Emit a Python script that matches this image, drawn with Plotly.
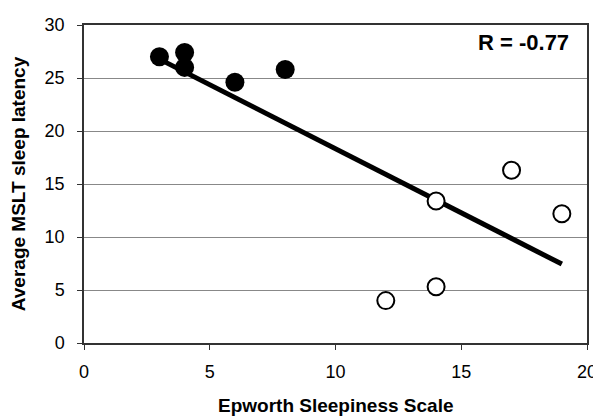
import numpy as np
import plotly.graph_objects as go

# Data
ess_low = [3, 4, 4, 6, 8]
mslt_low = [27.0, 27.4, 26.0, 24.6, 25.8]
ess_high = [12, 14, 14, 17, 19]
mslt_high = [4.0, 5.3, 13.4, 16.3, 12.2]
x_ticks = [0, 5, 10, 15, 20]
y_ticks = [0, 5, 10, 15, 20, 25, 30]
x_title = "Epworth Sleepiness Scale"
y_title = "Average MSLT sleep latency"

all_x = np.array(ess_low + ess_high, dtype=float)
all_y = np.array(mslt_low + mslt_high, dtype=float)
slope, intercept = np.polyfit(all_x, all_y, 1)
r = np.corrcoef(all_x, all_y)[0, 1]
fit_x = [all_x.min(), all_x.max()]
fit_y = [slope * v + intercept for v in fit_x]

fig = go.Figure()
fig.add_trace(go.Scatter(x=fit_x, y=fit_y, mode="lines",
                         line=dict(color="black", width=5), showlegend=False))
fig.add_trace(go.Scatter(x=ess_low, y=mslt_low, mode="markers",
                         marker=dict(color="black", size=19, line=dict(width=0)),
                         showlegend=False))
fig.add_trace(go.Scatter(x=ess_high, y=mslt_high, mode="markers",
                         marker=dict(color="white", size=17,
                                     line=dict(color="black", width=2)),
                         showlegend=False))

font_family = "Liberation Sans, Arial, sans-serif"
fig.update_layout(
    width=593, height=410,
    margin=dict(l=76, r=14, t=17, b=75),
    paper_bgcolor="white", plot_bgcolor="white",
    font=dict(family=font_family, color="black", size=16),
    xaxis=dict(range=[0, 20], tickvals=x_ticks, showgrid=False, zeroline=False,
               automargin=False,
               showline=True, linecolor="#333", linewidth=1.5, mirror=True,
               ticks="outside", ticklen=5, tickcolor="#333",
               ticklabelstandoff=7,
               tickfont=dict(size=18)),
    yaxis=dict(range=[0, 30], tickvals=y_ticks, showgrid=True, gridcolor="#888",
               gridwidth=1, zeroline=False, automargin=False,
               showline=True, linecolor="#333", linewidth=1.5, mirror=True,
               ticks="outside", ticklen=5, tickcolor="#333",
               ticklabelstandoff=9,
               tickfont=dict(size=18),
               title=dict(text="<b>%s</b>" % y_title, font=dict(size=19), standoff=16)),
    annotations=[
        dict(x=1, y=1, xref="paper", yref="paper", xanchor="right", yanchor="middle",
             xshift=-16, yshift=-17,
             text="<b>R = %.2f</b>" % r, showarrow=False, font=dict(size=22)),
        dict(x=0.5, y=0, xref="paper", yref="paper", xanchor="center", yanchor="middle",
             yshift=-62, text="<b>%s</b>" % x_title, showarrow=False, font=dict(size=19)),
    ],
)

fig.write_html("out.html")
